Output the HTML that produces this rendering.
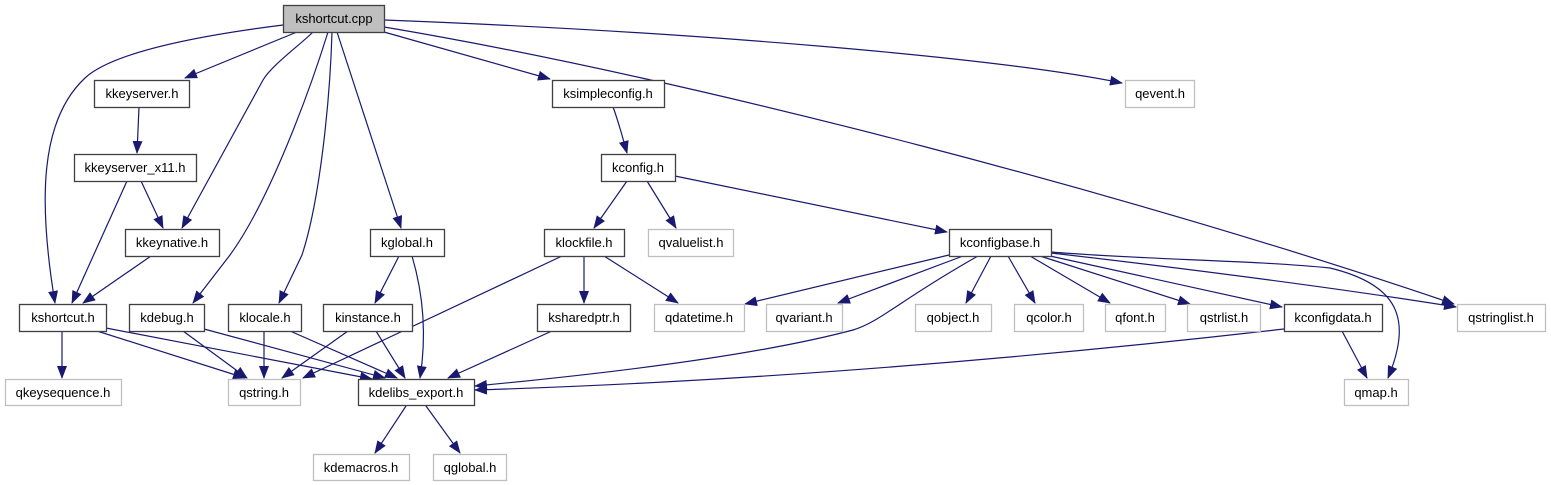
<!DOCTYPE html>
<html><head><meta charset="utf-8"><style>
html,body{margin:0;padding:0;background:#fff;}
svg{display:block;}
text{font-family:"Liberation Sans",Arial,sans-serif;font-size:13px;fill:#000;}
</style></head><body>
<svg width="1551" height="485" viewBox="0 0 1551 485" xmlns="http://www.w3.org/2000/svg">
<defs>
<marker id="a" markerWidth="13" markerHeight="10" refX="12" refY="5" orient="auto" markerUnits="userSpaceOnUse">
<path d="M0,0 L13,5 L0,10 z" fill="#191970"/>
</marker>
</defs>
<g fill="none" stroke="#191970" stroke-width="1.2" marker-end="url(#a)">
<path d="M283,25 C180,38 110,55 85,78 C40,120 38,200 55,303"/>
<path d="M297,32 L185,78"/>
<path d="M313,32 C300,45 272,65 263,80 L182,228"/>
<path d="M328,32 C310,90 270,200 230,255 L193,303"/>
<path d="M332,32 C330,100 320,200 302,255 L279,303"/>
<path d="M337,32 L401,228"/>
<path d="M384,32 L550,79"/>
<path d="M384,20 C700,32 1000,58 1122,83"/>
<path d="M384,27 C700,80 1150,200 1454,304"/>
<path d="M139,107 L137,153"/>
<path d="M141,181 L163,228"/>
<path d="M127,181 L72,303"/>
<path d="M151,256 L83,303"/>
<path d="M62,331 L62,378"/>
<path d="M97,331 L245,378"/>
<path d="M106,328 L372,379"/>
<path d="M183,331 L247,378"/>
<path d="M204,329 L385,378"/>
<path d="M264,331 L264,378"/>
<path d="M290,331 L397,378"/>
<path d="M348,331 L282,378"/>
<path d="M376,331 L405,378"/>
<path d="M399,256 L375,303"/>
<path d="M412,256 C425,300 426,340 420,378"/>
<path d="M562,256 L303,378"/>
<path d="M584,256 L584,303"/>
<path d="M604,256 L678,303"/>
<path d="M552,331 L448,378"/>
<path d="M406,406 L375,453"/>
<path d="M426,406 L460,453"/>
<path d="M613,107 C618,120 622,135 627,153"/>
<path d="M627,181 L594,228"/>
<path d="M647,181 L676,228"/>
<path d="M675,176 L947,232"/>
<path d="M949,255 L745,304"/>
<path d="M963,256 L838,303"/>
<path d="M978,256 C900,300 880,322 853,330 C740,360 560,378 475,386"/>
<path d="M991,256 L966,303"/>
<path d="M1008,256 L1035,303"/>
<path d="M1030,256 L1110,303"/>
<path d="M1040,256 L1190,304"/>
<path d="M1050,256 L1282,307"/>
<path d="M1051,253 C1200,270 1350,290 1456,307"/>
<path d="M1051,252 C1150,260 1250,260 1330,268 C1400,285 1412,320 1388,378"/>
<path d="M1342,331 L1367,378"/>
<path d="M1284,329 C1100,350 800,380 475,390"/>
</g>
<g stroke-width="1.3">
<rect x="283.5" y="5.5" width="101" height="27" fill="#bfbfbf" stroke="#404040"/>
<g fill="#fff" stroke="#404040">
<rect x="94.5" y="80.5" width="95" height="27"/>
<rect x="74.5" y="154.5" width="122" height="27"/>
<rect x="125.5" y="229.5" width="94" height="27"/>
<rect x="19.5" y="304.5" width="87" height="27"/>
<rect x="129.5" y="304.5" width="75" height="27"/>
<rect x="228.5" y="304.5" width="73" height="27"/>
<rect x="323.5" y="304.5" width="89" height="27"/>
<rect x="370.5" y="229.5" width="74" height="27"/>
<rect x="358.5" y="379.5" width="116" height="26"/>
<rect x="552.5" y="80.5" width="112" height="27"/>
<rect x="601.5" y="154.5" width="74" height="27"/>
<rect x="544.5" y="229.5" width="80" height="27"/>
<rect x="949.5" y="229.5" width="102" height="27"/>
<rect x="537.5" y="304.5" width="93" height="27"/>
<rect x="1284.5" y="304.5" width="98" height="27"/>
</g>
<g fill="#fff" stroke="#bfbfbf">
<rect x="5.5" y="379.5" width="116" height="26"/>
<rect x="228.5" y="379.5" width="72" height="26"/>
<rect x="313.5" y="454.5" width="96" height="26"/>
<rect x="433.5" y="454.5" width="73" height="26"/>
<rect x="1125.5" y="80.5" width="69" height="27"/>
<rect x="648.5" y="229.5" width="85" height="27"/>
<rect x="654.5" y="304.5" width="90" height="27"/>
<rect x="766.5" y="304.5" width="76" height="27"/>
<rect x="915.5" y="304.5" width="76" height="27"/>
<rect x="1014.5" y="304.5" width="69" height="27"/>
<rect x="1105.5" y="304.5" width="60" height="27"/>
<rect x="1187.5" y="304.5" width="73" height="27"/>
<rect x="1457.5" y="304.5" width="88" height="27"/>
<rect x="1344.5" y="379.5" width="64" height="26"/>
</g>
</g>
<g text-anchor="middle">
<text x="334" y="23">kshortcut.cpp</text>
<text x="142" y="98">kkeyserver.h</text>
<text x="135" y="172">kkeyserver_x11.h</text>
<text x="172" y="247">kkeynative.h</text>
<text x="63" y="322">kshortcut.h</text>
<text x="167" y="322">kdebug.h</text>
<text x="265" y="322">klocale.h</text>
<text x="368" y="322">kinstance.h</text>
<text x="407" y="247">kglobal.h</text>
<text x="416" y="397">kdelibs_export.h</text>
<text x="608" y="98">ksimpleconfig.h</text>
<text x="638" y="172">kconfig.h</text>
<text x="584" y="247">klockfile.h</text>
<text x="1000" y="247">kconfigbase.h</text>
<text x="584" y="322">ksharedptr.h</text>
<text x="1333" y="322">kconfigdata.h</text>
<text x="63" y="397">qkeysequence.h</text>
<text x="264" y="397">qstring.h</text>
<text x="361" y="472">kdemacros.h</text>
<text x="470" y="472">qglobal.h</text>
<text x="1160" y="98">qevent.h</text>
<text x="691" y="247">qvaluelist.h</text>
<text x="699" y="322">qdatetime.h</text>
<text x="804" y="322">qvariant.h</text>
<text x="953" y="322">qobject.h</text>
<text x="1049" y="322">qcolor.h</text>
<text x="1135" y="322">qfont.h</text>
<text x="1224" y="322">qstrlist.h</text>
<text x="1501" y="322">qstringlist.h</text>
<text x="1376" y="397">qmap.h</text>
</g>
</svg>
</body></html>
